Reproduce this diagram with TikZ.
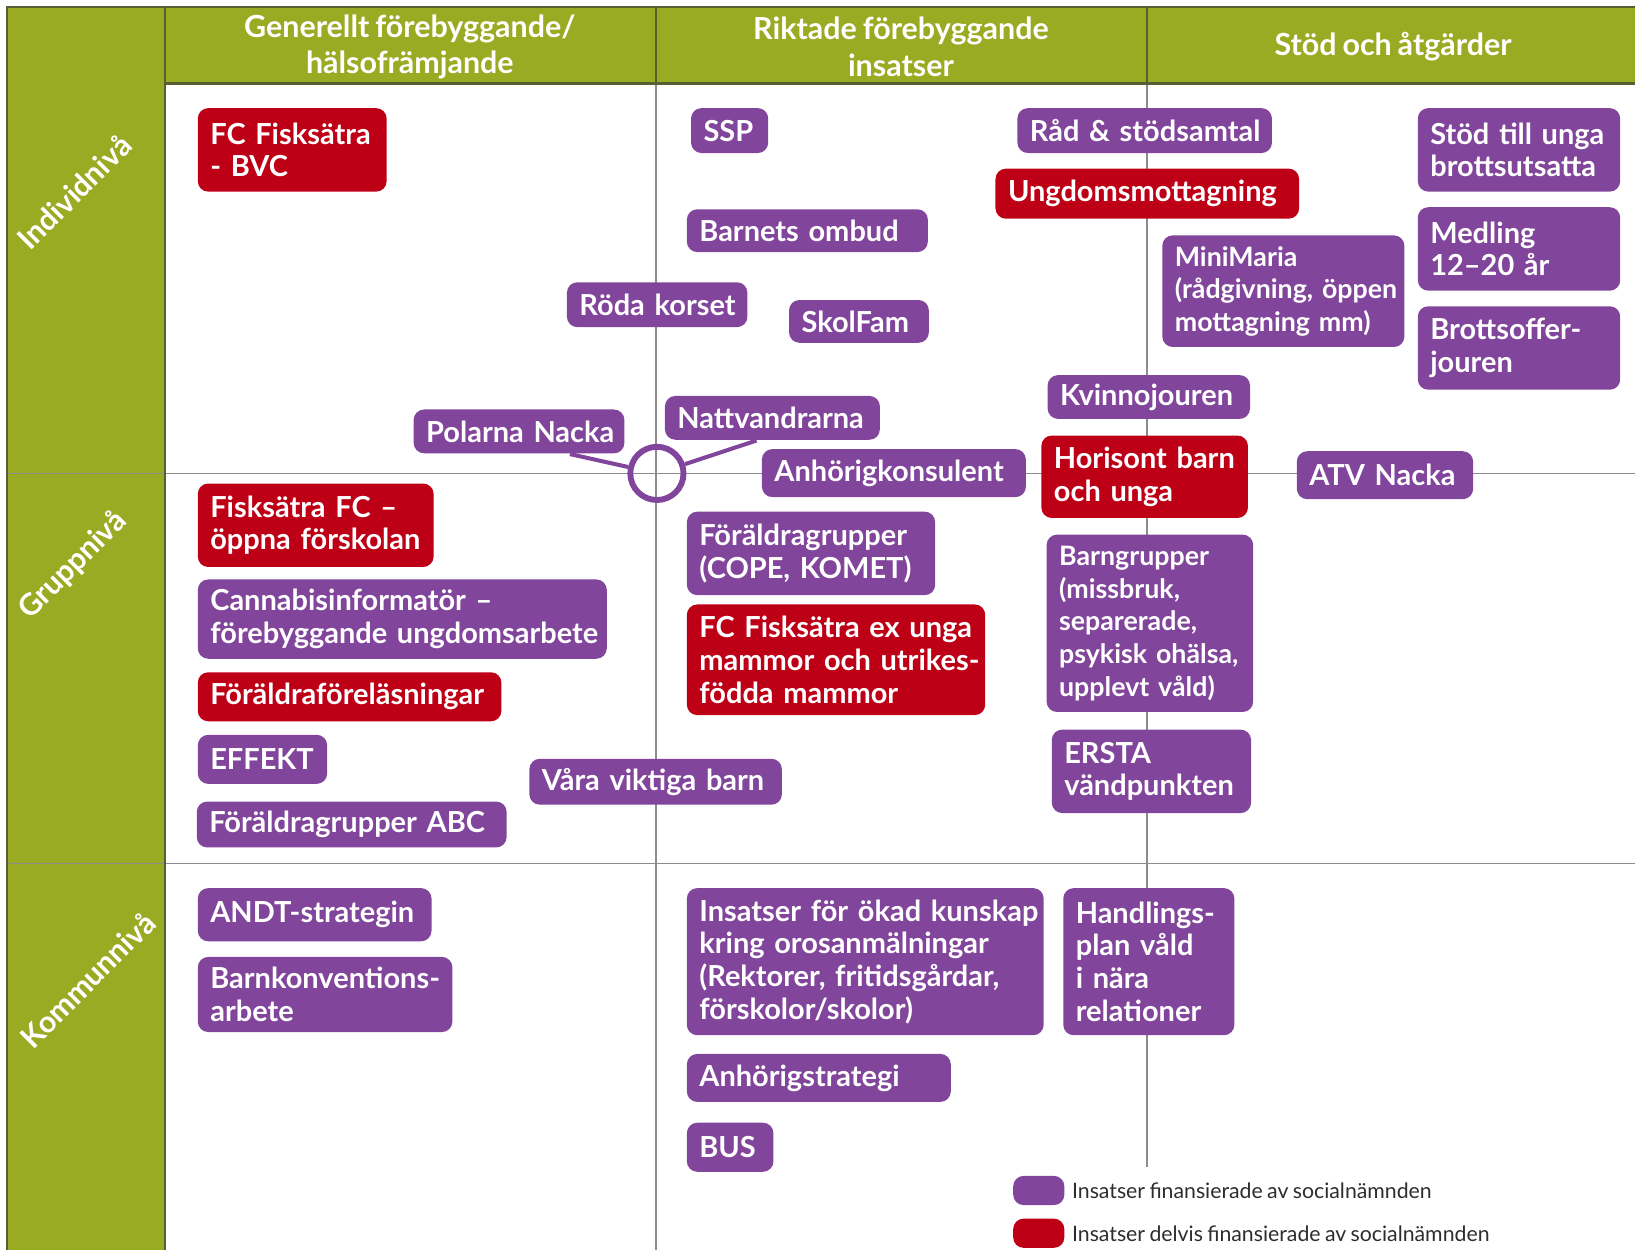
\documentclass[tikz,border=0pt]{standalone}
\usepackage{fontspec}
\setmainfont{Lato}[WordSpace=0.8]
\usetikzlibrary{positioning}

\definecolor{gron}{RGB}{152,171,34}
\definecolor{lila}{RGB}{129,69,155}
\definecolor{rod}{RGB}{190,0,22}
\definecolor{ramfarg}{RGB}{88,94,52}
\definecolor{rutfarg}{RGB}{140,140,140}
\definecolor{textgra}{RGB}{45,45,45}
\hyphenpenalty=10000
\exhyphenpenalty=10000

\begin{document}
\begin{tikzpicture}[x=0.01cm, y=-0.01cm,
    insats/.style={anchor=north west, rounded corners=0.1cm, text=white, align=left,
      inner xsep=0.12cm, inner ysep=0pt, font=\bfseries\fontsize{7.9}{8.9}\selectfont},
    helfin/.style={insats, fill=lila},
    delfin/.style={insats, fill=rod},
    smal/.style={font=\bfseries\fontsize{7.3}{8.9}\selectfont},
    rubrik/.style={text=white, align=center, font=\bfseries\fontsize{8.3}{10}\selectfont},
    niva/.style={text=white, rotate=45, font=\bfseries\fontsize{8.2}{9}\selectfont},
    rutnat/.style={draw=rutfarg, line width=0.45pt},
    ram/.style={draw=ramfarg, line width=0.6pt},
    forklaring/.style={text=textgra, inner sep=0pt, font=\fontsize{5.8}{7}\selectfont},
    koppling/.style={draw=lila, line width=1.1pt}]

    \useasboundingbox (0,0) rectangle (1568,1199);

    % ram och rutnat
    \fill[gron] (7,7) rectangle (158,1199);
    \fill[gron] (158,7) rectangle (1568,80);
    \draw[rutnat] (7,454) -- (1568,454) (7,828) -- (1568,828)
                  (629,80) -- (629,1199) (1100,80) -- (1100,1119);
    \draw[ram] (7,1199) -- (7,7) -- (1568,7) (158,1199) -- (158,7)
               (158,80) -- (1568,80) (629,7) -- (629,80) (1100,7) -- (1100,80);

    \node[rubrik] (hgen) at (393,45) {Generellt förebyggande/\\hälsofrämjande};
    \node[rubrik] (hrikt) at (864,45) {Riktade förebyggande\\insatser};
    \node[rubrik] (hstod) at (1336,45) {Stöd och åtgärder};

    \node[niva] (individ) at (71,184) {Individnivå};
    \node[niva] (grupp) at (70,542) {Gruppnivå};
    \node[niva] (kommun) at (84,940) {Kommunnivå};

    % individnivå
    \node[delfin, text width=1.57cm, minimum height=0.80cm] (fcbvc) at (189,103) {FC~Fisksätra\\-~BVC};
    \node[helfin, text width=0.50cm, minimum height=0.43cm] (ssp) at (662,103) {SSP};
    \node[helfin, text width=2.07cm, minimum height=0.41cm] (ombud) at (658,200) {Barnets~ombud};
    \node[helfin, text width=1.49cm, minimum height=0.43cm] (roda) at (543,270) {Röda~korset};
    \node[helfin, text width=1.10cm, minimum height=0.41cm] (skolfam) at (756,287) {SkolFam};
    \node[helfin, text width=2.20cm, minimum height=0.43cm] (rad) at (975,103) {Råd~\&~stödsamtal};
    \node[delfin, text width=2.67cm, minimum height=0.48cm] (ungdom) at (954,161) {Ungdomsmottagning};
    \node[helfin, smal, text width=2.08cm, minimum height=1.07cm] (minimaria) at (1114,225) {MiniMaria\\(rådgivning,~öppen\\mottagning~mm)};
    \node[helfin, text width=1.70cm, minimum height=0.80cm] (brott) at (1359,103) {Stöd~till~unga\\brottsutsatta};
    \node[helfin, text width=1.70cm, minimum height=0.80cm] (medling) at (1359,198) {Medling\\12–20~år};
    \node[helfin, text width=1.70cm, minimum height=0.80cm] (jouren) at (1359,293) {Brottsoffer-\\jouren};
    \node[helfin, text width=1.70cm, minimum height=0.42cm] (kvinno) at (1004,359) {Kvinnojouren};
    \node[helfin, text width=1.78cm, minimum height=0.42cm] (polarna) at (396,392) {Polarna~Nacka};
    \node[helfin, text width=1.82cm, minimum height=0.42cm] (natt) at (637,379) {Nattvandrarna};
    \node[helfin, text width=2.29cm, minimum height=0.46cm] (anhkons) at (730,430) {Anhörigkonsulent};
    \node[delfin, text width=1.74cm, minimum height=0.79cm] (horisont) at (998,417) {Horisont~barn\\och~unga};
    \node[helfin, text width=1.45cm, minimum height=0.46cm] (atv) at (1243,432) {ATV~Nacka};

    % gruppnivå
    \node[delfin, text width=2.02cm, minimum height=0.80cm] (fcoppna) at (189,463) {Fisksätra~FC~–\\öppna~förskolan};
    \node[helfin, text width=3.68cm, minimum height=0.76cm] (cannabis) at (189,555) {Cannabisinformatör~–\\förebyggande~ungdomsarbete};
    \node[delfin, text width=2.67cm, minimum height=0.47cm] (forelas) at (189,644) {Föräldraföreläsningar};
    \node[helfin, text width=1.00cm, minimum height=0.47cm] (effekt) at (189,704) {EFFEKT};
    \node[helfin, text width=2.73cm, minimum height=0.44cm] (abc) at (188,768) {Föräldragrupper~ABC};
    \node[helfin, text width=2.18cm, minimum height=0.44cm] (vara) at (507,727) {Våra~viktiga~barn};
    \node[helfin, text width=2.14cm, minimum height=0.80cm] (cope) at (658,490) {Föräldragrupper\\(COPE,~KOMET)};
    \node[delfin, text width=2.62cm, minimum height=1.06cm] (fcmammor) at (658,579) {FC~Fisksätra~ex~unga\\mammor~och~utrikes-\\födda~mammor};
    \node[helfin, smal, text width=1.74cm, minimum height=1.70cm] (barngrupper) at (1003,512) {Barngrupper\\(missbruk,\\separerade,\\psykisk~ohälsa,\\upplevt~våld)};
    \node[helfin, text width=1.67cm, minimum height=0.80cm] (ersta) at (1008,699) {ERSTA\\vändpunkten};

    % kommunnivå
    \node[helfin, text width=2.00cm, minimum height=0.51cm] (andt) at (189,851) {ANDT-strategin};
    \node[helfin, text width=2.20cm, minimum height=0.72cm] (barnkonv) at (189,917) {Barnkonventions-\\arbete};
    \node[helfin, text width=3.18cm, minimum height=1.41cm] (kunskap) at (658,851) {Insatser~för~ökad~kunskap\\kring~orosanmälningar\\(Rektorer,~fritidsgårdar,\\förskolor/skolor)};
    \node[helfin, text width=2.29cm, minimum height=0.46cm] (anhstrat) at (658,1010) {Anhörigstrategi};
    \node[helfin, text width=0.59cm, minimum height=0.47cm] (bus) at (658,1076) {BUS};
    \node[helfin, text width=1.40cm, minimum height=1.41cm] (handlings) at (1019,851) {Handlings-\\plan~våld\\i~nära\\relationer};

    % samverkan
    \node[circle, draw=lila, line width=1.6pt, minimum size=0.51cm, inner sep=0pt] (nav) at (630,454) {};
    \draw[koppling] (polarna.-24) -- (nav);
    \draw[koppling] (natt.-125) -- (nav);

    % förklaring
    \node[insats, fill=lila, minimum width=0.49cm, minimum height=0.28cm] (tecknhel) at (971,1127) {};
    \node[insats, fill=rod, minimum width=0.49cm, minimum height=0.28cm] (teckndel) at (971,1168) {};
    \node[forklaring, right=0.06cm of tecknhel] (texthel) {Insatser finansierade av socialnämnden};
    \node[forklaring, right=0.06cm of teckndel] (textdel) {Insatser delvis finansierade av socialnämnden};
\end{tikzpicture}
\end{document}
